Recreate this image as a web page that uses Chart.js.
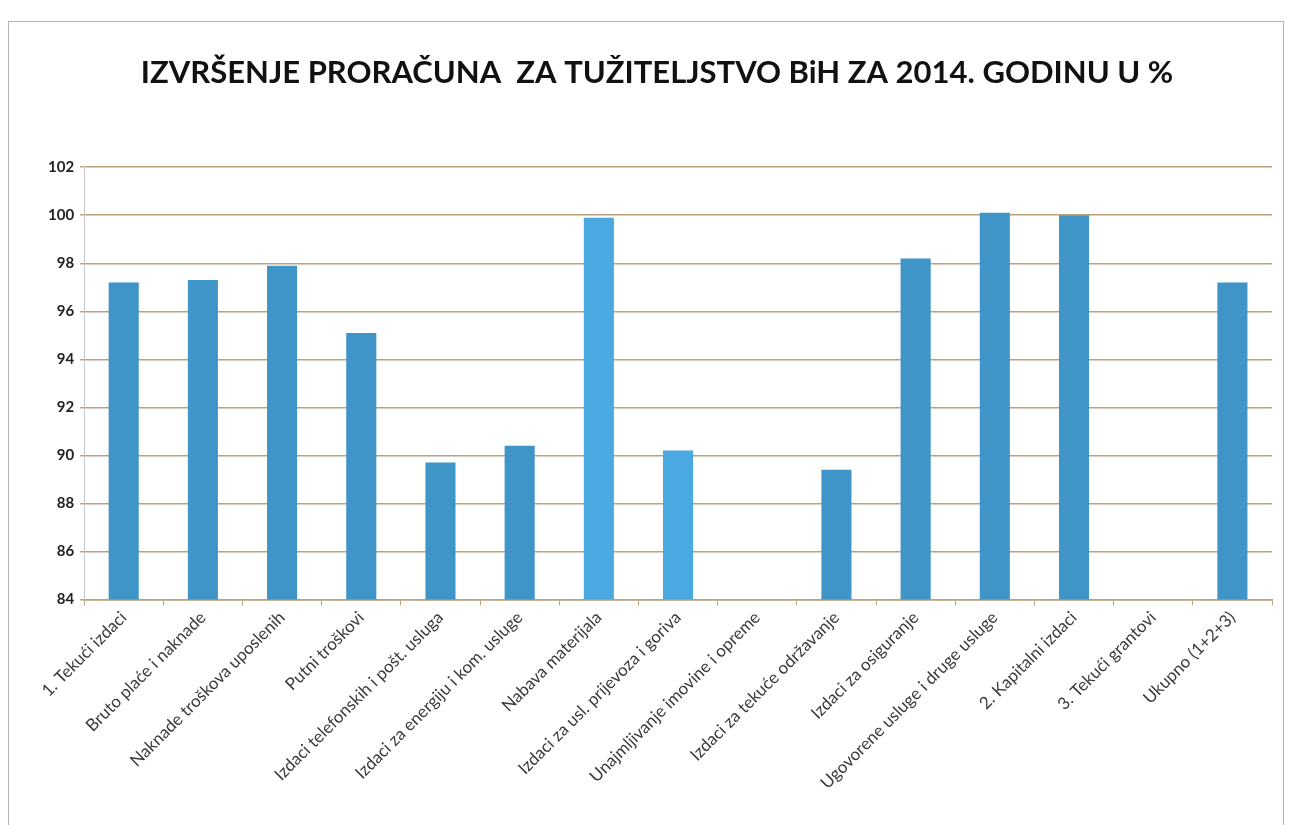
<!DOCTYPE html>
<html>
<head>
<meta charset="utf-8">
<script src="https://cdn.jsdelivr.net/npm/chart.js@4"></script>
<style>
    html, body { margin: 0; padding: 0; background: #fff; }
    body { width: 1290px; height: 825px; overflow: hidden; position: relative; }
    .frame {
        position: absolute;
        left: 8px; top: 21px;
        width: 1274px; height: 820px;
        border: 1px solid #b4b4b4;
        border-bottom: none;
    }
    .chart-box {
        position: absolute;
        left: 0; top: 0;
        width: 1290px; height: 825px;
    }
</style>
</head>
<body>
<div class="frame"></div>
<div class="chart-box"><canvas id="budgetChart"></canvas></div>
<script>
const chartTitle = 'IZVRŠENJE PRORAČUNA  ZA TUŽITELJSTVO BiH ZA 2014. GODINU U %';

const categories = [
    '1. Tekući izdaci',
    'Bruto plaće i naknade',
    'Naknade troškova uposlenih',
    'Putni troškovi',
    'Izdaci telefonskih i pošt. usluga',
    'Izdaci za energiju i kom. usluge',
    'Nabava materijala',
    'Izdaci za usl. prijevoza i goriva',
    'Unajmljivanje imovine i opreme',
    'Izdaci za tekuće održavanje',
    'Izdaci za osiguranje',
    'Ugovorene usluge i druge usluge',
    '2. Kapitalni izdaci',
    '3. Tekući grantovi',
    'Ukupno (1+2+3)'
];

// % of budget executed (empty where the scan shows no bar)
const executed = [97.2, 97.3, 97.9, 95.1, 89.7, 90.4, 99.9, 90.2, null, 89.4, 98.2, 100.1, 100.0, null, 97.2];

// which bars are printed in the lighter blue
const lighter = [false, false, false, false, false, false, true, true, false, false, false, false, false, false, false];

const yMin = 84;
const yMax = 102;
const yStep = 2;

const barColors = lighter.map(l => l ? '#4aa9e0' : '#3f95c7');

const ctx = document.getElementById('budgetChart').getContext('2d');

new Chart(ctx, {
    type: 'bar',
    data: {
        labels: categories,
        datasets: [{
            label: 'Izvršenje %',
            data: executed,
            backgroundColor: barColors,
            borderWidth: 0,
            barPercentage: 0.76,
            categoryPercentage: 0.5
        }]
    },
    options: {
        responsive: true,
        maintainAspectRatio: false,
        animation: false,
        layout: {
            padding: { left: 42, right: 18, top: 54, bottom: 30 }
        },
        plugins: {
            legend: { display: false },
            tooltip: { enabled: false },
            title: {
                display: true,
                text: chartTitle,
                color: '#111',
                font: { family: 'Lato', size: 31, weight: 'bold' },
                padding: { top: 0, bottom: 76 }
            }
        },
        scales: {
            x: {
                grid: {
                    display: true,
                    drawOnChartArea: false,
                    drawTicks: true,
                    tickLength: 6,
                    color: '#b9a27c',
                    offset: true
                },
                border: { color: '#b9a27c', width: 1.5 },
                ticks: {
                    autoSkip: false,
                    maxRotation: 45,
                    minRotation: 45,
                    color: '#3a3a3a',
                    padding: 2,
                    font: { family: 'Lato', size: 17 }
                }
            },
            y: {
                min: yMin,
                max: yMax,
                grid: {
                    color: '#b9a27c',
                    lineWidth: 1.5,
                    drawTicks: true,
                    tickLength: 4
                },
                border: { color: '#c8c8c8' },
                ticks: {
                    stepSize: yStep,
                    color: '#222',
                    padding: 6,
                    font: { family: 'Lato', size: 15, weight: 'bold' }
                }
            }
        }
    }
});
</script>
</body>
</html>
